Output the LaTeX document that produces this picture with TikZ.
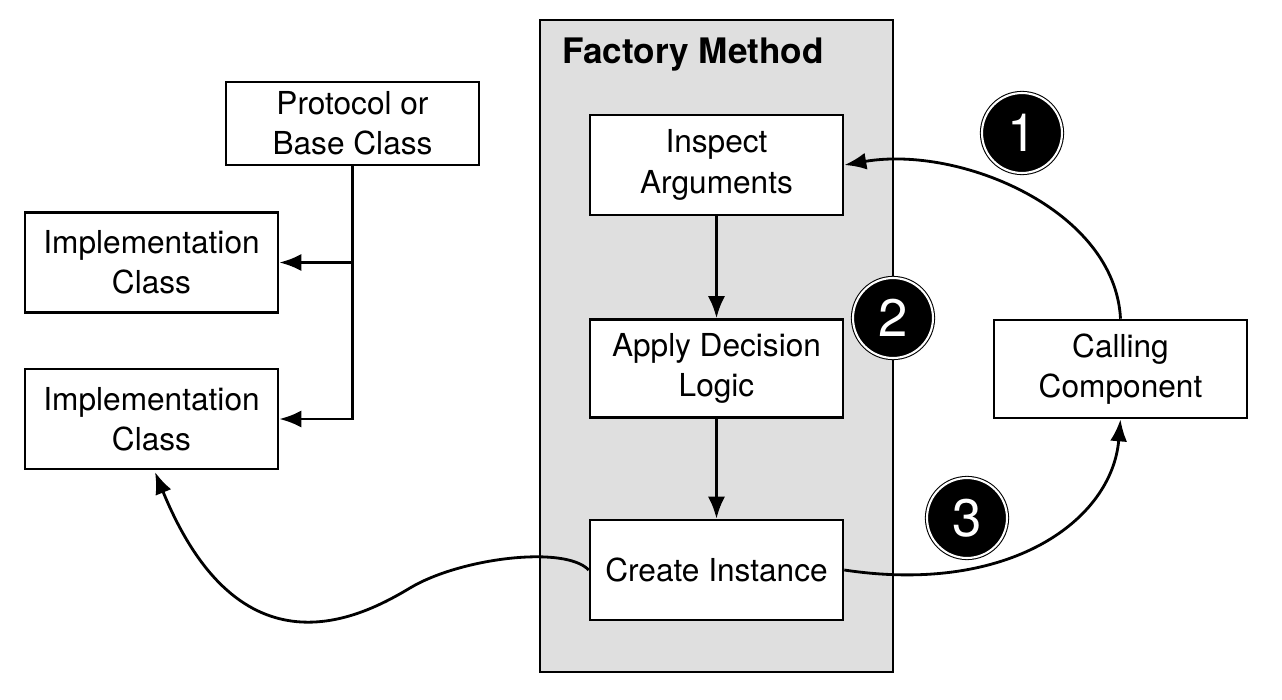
\documentclass[tikz,border=0pt]{standalone}
\usepackage{fontspec}
\setmainfont{TeX Gyre Heros}
\usetikzlibrary{arrows.meta}
\tikzset{
    box/.style={draw, line width=1.5pt, fill=white, align=center, inner sep=0pt,
        minimum width=5.06cm, minimum height=2cm, font=\fontsize{18}{23}\selectfont},
    link/.style={line width=1.6pt, -{Latex[length=4.4mm,width=3.4mm]}},
    badge/.style={circle, fill=black, draw=black, double=white, double distance=1.2pt,
        line width=0.6pt, minimum size=1.6cm, inner sep=0pt, text=white,
        font=\fontsize{30}{30}\selectfont},
}
\begin{document}
\begin{tikzpicture}[x=0.02cm, y=-0.02cm]
    \useasboundingbox (0,0) rectangle (1282,700);
    \draw[line width=1.5pt, fill=gray!25] (540,20) rectangle (893,672);
    \node[anchor=base west, font=\bfseries\fontsize{20}{24}\selectfont] (title) at (556,63) {Factory Method};
    % boxes
    \node[box, minimum height=1.66cm] (proto) at (352.5,123.5) {Protocol or\\Base Class};
    \node[box] (impla) at (151.5,262.5) {Implementation\\Class};
    \node[box] (implb) at (151.5,419) {Implementation\\Class};
    \node[box] (inspect) at (716.5,165) {Inspect\\Arguments};
    \node[box, minimum height=1.96cm] (apply) at (716.5,368.5) {Apply Decision\\Logic};
    \node[box] (create) at (716.5,570) {Create Instance};
    \node[box, minimum height=1.96cm] (calling) at (1120.5,369) {Calling\\Component};
    % connectors
    \coordinate (fork) at (proto.south |- impla.east);
    \draw[link] (proto.south) |- (implb.east);
    \draw[link] (fork) -- (impla.east);
    \draw[link] (inspect) -- (apply);
    \draw[link] (apply) -- (create);
    \draw[link] (calling.north) .. controls (1115,210) and (960,145) .. (inspect.east);
    \draw[link] (create.east) .. controls (1010,595) and (1112,520) .. (calling.south);
    \draw[link] (create.west) .. controls (565,545) and (460,558) .. (410,588)
        .. controls (360,618) and (240,680) .. (155,472);
    % numbers
    \node[badge] (one) at (1022,133) {1};
    \node[badge] (two) at (893,318) {2};
    \node[badge] (three) at (967,518) {3};
\end{tikzpicture}
\end{document}
